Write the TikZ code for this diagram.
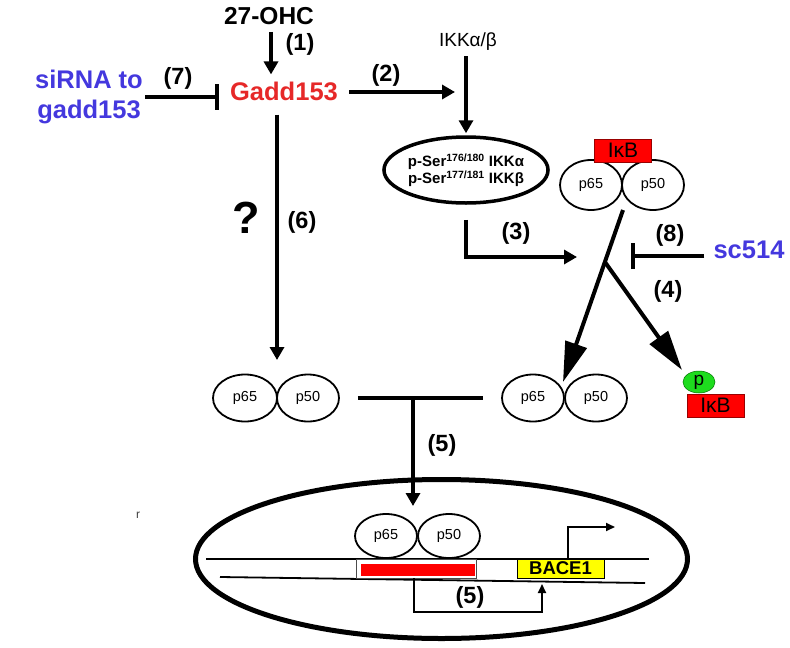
\documentclass[tikz,border=0pt]{standalone}
\usepackage{fontspec}
\setmainfont{Liberation Sans}
\usetikzlibrary{shapes.geometric,arrows.meta,calc}
\definecolor{gred}{RGB}{230,40,40}
\definecolor{sblue}{RGB}{68,56,222}
\definecolor{boxred}{RGB}{255,0,0}
\definecolor{pgreen}{RGB}{30,220,30}
\definecolor{byellow}{RGB}{255,255,0}
\begin{document}
\begin{tikzpicture}[x=1pt,y=-1pt,
  lbl/.style={inner sep=0pt,font=\fontsize{23.5}{27}\selectfont\bfseries},
  big/.style={inner sep=0pt,font=\fontsize{25.5}{30}\selectfont\bfseries},
  sub/.style={ellipse,draw,line width=1.8pt,minimum width=62pt,minimum height=48pt,inner sep=0pt,font=\fontsize{14.5}{16}\selectfont},
  rbox/.style={draw=red!60!black,line width=0.6pt,fill=boxred,minimum width=57pt,minimum height=23pt,inner sep=0pt,font=\fontsize{21}{24}\selectfont},
  arr/.style={line width=4pt,-{Triangle[length=13pt,width=14pt]}},
  bigarr/.style={line width=4pt,-{Triangle[length=40pt,width=22pt]}},
  inh/.style={line width=4pt,-{Bar[width=26pt]}},
  thinarr/.style={line width=1.8pt,-{Triangle[length=9pt,width=8pt]}},
  dna/.style={line width=1.8pt}]
\useasboundingbox (0,0) rectangle (790,648);
% top
\node[lbl,font=\fontsize{24.5}{28}\selectfont\bfseries] (ohc) at (269,16) {27-OHC};
\node[big,text=gred] (gadd) at (284,91) {Gadd153};
\node[big,text=sblue,align=center] (sirna) at (89,97) {siRNA to\\gadd153};
\node[lbl] (l1) at (300,44) {(1)};
\node[lbl] (l7) at (178,78) {(7)};
\node[lbl] (l2) at (386,75) {(2)};
\draw[arr,shorten <=7pt,shorten >=7pt] ([xshift=2pt]ohc.south) -- ([xshift=-13pt]gadd.north);
\draw[inh,shorten <=2pt] (sirna.east) -- ([xshift=-11pt]gadd.west |- sirna.east);
\coordinate (j2) at (455,92);
\draw[arr,shorten <=11pt] (gadd.east |- j2) -- (j2);
% IKK
\node[inner sep=0pt,font=\fontsize{19}{22}\selectfont] (ikk) at (468,42) {IKKα/β};
\node[ellipse,draw,line width=3.5pt,minimum width=144pt,minimum height=66pt,inner sep=0pt,align=center,font=\fontsize{15}{17}\selectfont\bfseries] (ikkp) at (466,170) {p-Ser\textsuperscript{176/180} IKKα\\p-Ser\textsuperscript{177/181} IKKβ};
\draw[arr,shorten <=5pt,shorten >=2pt] (ikk.south -| ikkp.north) -- (ikkp.north);
\coordinate (j3) at (577,257);
\draw[arr] ([yshift=-15pt]ikkp.south) |- (j3);
\node[lbl] (l3) at (516,233) {(3)};
% top complex
\node[sub,minimum height=50pt] (tp65) at (591,185) {p65};
\node[sub,minimum height=50pt] (tp50) at (653,185) {p50};
\node[rbox] (tikb) at (623,150.5) {IκB};
% sc514
\node[big,text=sblue] (sc) at (749,250) {sc514};
\coordinate (b8) at (631,256);
\draw[inh] ([xshift=-9pt]sc.west |- b8) -- (b8);
\node[lbl] (l8) at (670,235) {(8)};
\node[lbl] (l4) at (668,291) {(4)};
% split
\coordinate (s0) at (623,210);
\coordinate (tipA) at (563,382);
\coordinate (tipB) at (682,370);
\coordinate (s1) at ($(s0)!0.302!(tipA)$);
\draw[bigarr] (s0) -- (tipA);
\draw[bigarr] (s1) -- (tipB);
% phospho IkB
\node[rbox] (bikb) at (715.5,405.5) {IκB};
\node[ellipse,fill=pgreen,draw=green!45!black,line width=0.5pt,minimum width=32pt,minimum height=22pt,inner sep=0pt,font=\fontsize{19}{20}\selectfont] (pg) at (699,382) {p};
% middle pairs
\node[sub,minimum height=47pt] (bp65) at (533,398) {p65};
\node[sub,minimum height=47pt] (bp50) at (596,398) {p50};
\node[sub,minimum width=64pt,minimum height=47pt] (lp65) at (245,398) {p65};
\node[sub,minimum height=47pt] (lp50) at (308,398) {p50};
\coordinate (t6) at (277,360);
\draw[arr] ([xshift=-7pt,yshift=-14pt]gadd.south) -- (t6);
\node[lbl] (l6) at (302,222) {(6)};
\node[inner sep=0pt,font=\fontsize{45}{48}\selectfont\bfseries] (q) at (246,218) {?};
\draw[line width=4pt] ([xshift=18pt]lp50.east) -- ([xshift=-18pt]bp65.west);
\coordinate (t5) at (413,398);
\coordinate (t5e) at (413,506);
\draw[arr] (t5) -- (t5e);
\node[lbl] (l5) at (442,445) {(5)};
% nucleus
\node[ellipse,draw,line width=5pt,minimum width=492pt,minimum height=159pt,inner sep=0pt] (nuc) at (441.5,559) {};
\node[inner sep=0pt,font=\fontsize{12}{14}\selectfont,text=black!75] (r) at (138,515) {r};
\coordinate (u1) at (206,559);
\coordinate (u2) at (649,559);
\coordinate (d1) at (220,577);
\coordinate (d2) at (645,583);
\draw[dna] (u1) -- (u2);
\draw[dna] (d1) -- (d2);
\node[draw=black!70,line width=0.8pt,fill=white,minimum width=120pt,minimum height=19pt,inner sep=0pt] (prom) at (416,568.5) {};
\node[fill=boxred,minimum width=114pt,minimum height=12pt,inner sep=0pt] (promred) at (418,570) {};
\node[draw,line width=0.8pt,fill=byellow,minimum width=87pt,minimum height=19pt,inner sep=0pt,font=\fontsize{18.5}{20}\selectfont\bfseries] (bace) at (560.5,568.5) {BACE1};
\node[sub,minimum height=44pt] (np65) at (386,536) {p65};
\node[sub,minimum height=44pt] (np50) at (449,536) {p50};
\coordinate (tr1) at (568,527);
\coordinate (tr2) at (615,527);
\draw[thinarr] ([xshift=7.5pt]bace.north) -- (tr1) -- (tr2);
\coordinate (k1) at (414,612);
\coordinate (k2) at (542,612);
\coordinate (k3) at (542,584);
\draw[thinarr] ([xshift=-2pt]prom.south) -- (k1) -- (k2) -- (k3);
\node[lbl] (l5b) at (470,597) {(5)};
\end{tikzpicture}
\end{document}
